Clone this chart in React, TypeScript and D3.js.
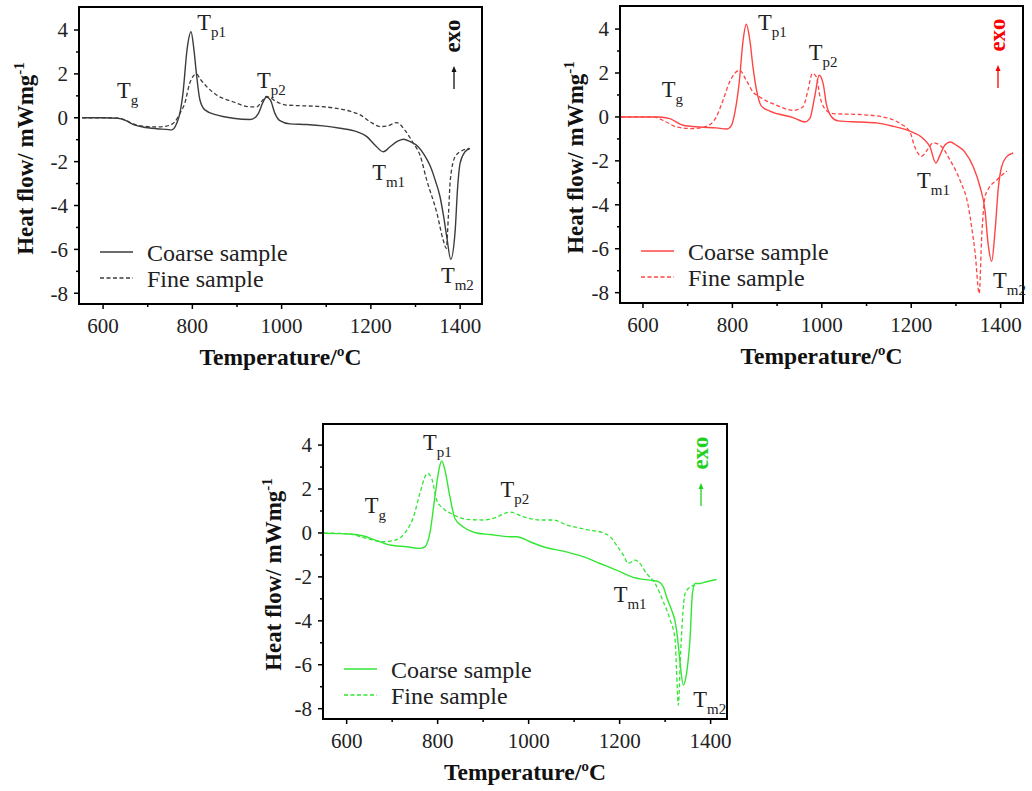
import React from "react";
import * as d3 from "d3";

// ---------- data (Temperature °C, Heat flow mW/mg) ----------
const xMajorTicks = [600, 800, 1000, 1200, 1400];
const xMinorTicks = [700, 900, 1100, 1300];
const yMajorTicks = [4, 2, 0, -2, -4, -6, -8];
const yMinorTicks = [3, 1, -1, -3, -5, -7];
const legendLabels = ["Coarse sample", "Fine sample"];

const coarseBlack: [number, number][] = [
  [553, 0], [600, 0], [633, -0.02], [650, -0.12], [667, -0.3], [689, -0.42], [720, -0.5],
  [742, -0.53], [754, -0.55], [765, -0.25], [772, 0.2], [779, 1.12], [788, 3.09], [797, 3.92],
  [803, 3.2], [809, 2.03], [817, 0.81], [828, 0.36], [854, 0.13], [891, -0.02], [929, -0.08],
  [940, 0.0], [948, 0.2], [958, 0.7], [966, 0.95], [975, 0.8], [985, 0.2], [996, -0.13],
  [1019, -0.28], [1056, -0.31], [1093, -0.37], [1131, -0.48], [1168, -0.63], [1191, -0.86],
  [1209, -1.24], [1228, -1.55], [1243, -1.32], [1258, -1.09], [1273, -0.98], [1288, -1.09],
  [1306, -1.32], [1320, -1.7], [1333, -2.2], [1345, -2.9], [1355, -3.6], [1363, -4.5],
  [1370, -5.42], [1379, -6.45], [1389, -5.11], [1394, -3.29], [1400, -2.07], [1411, -1.55],
  [1422, -1.4],
];
const fineBlack: [number, number][] = [
  [553, 0], [600, 0], [633, -0.02], [650, -0.1], [667, -0.28], [689, -0.38], [720, -0.42],
  [742, -0.38], [760, -0.2], [772, 0.2], [783, 0.66], [794, 1.57], [802, 1.9], [809, 2.0],
  [818, 1.75], [832, 1.42], [854, 1.04], [891, 0.73], [929, 0.5], [944, 0.5], [959, 0.84],
  [966, 0.97], [975, 0.9], [989, 0.73], [1011, 0.58], [1041, 0.55], [1080, 0.52], [1116, 0.45],
  [1153, 0.3], [1176, 0.13], [1198, -0.18], [1221, -0.4], [1236, -0.38], [1258, -0.22],
  [1276, -0.56], [1295, -1.16], [1310, -1.7], [1325, -2.83], [1348, -4.35], [1362, -5.57],
  [1369, -5.95], [1374, -4.35], [1378, -2.83], [1389, -1.77], [1407, -1.47], [1420, -1.4],
];

const coarseRed: [number, number][] = [
  [551, 0], [637, 0], [660, -0.08], [690, -0.38], [727, -0.46], [764, -0.5], [787, -0.55],
  [798, -0.38], [805, 0.15], [815, 1.52], [824, 3.5], [831, 4.22], [839, 3.5], [846, 2.28],
  [854, 1.22], [865, 0.49], [884, 0.26], [936, -0.03], [962, -0.23], [973, -0.08], [984, 0.91],
  [994, 1.9], [1003, 1.52], [1010, 0.61], [1022, 0], [1037, -0.18], [1085, -0.23],
  [1122, -0.27], [1160, -0.43], [1197, -0.65], [1227, -0.99], [1242, -1.37], [1255, -2.1],
  [1264, -1.75], [1275, -1.29], [1287, -1.14], [1301, -1.29], [1320, -1.6], [1339, -2.28],
  [1354, -3.19], [1365, -4.26], [1372, -5.78], [1380, -6.57], [1387, -5.32], [1395, -3.19],
  [1402, -2.28], [1413, -1.82], [1428, -1.64],
];
const fineRed: [number, number][] = [
  [551, 0], [622, 0], [652, -0.23], [675, -0.46], [712, -0.53], [742, -0.43], [764, 0],
  [779, 0.76], [794, 1.6], [805, 1.98], [816, 2.13], [831, 1.67], [846, 1.14], [861, 0.91],
  [899, 0.53], [936, 0.3], [958, 0.46], [969, 1.22], [979, 1.98], [988, 1.82], [996, 0.91],
  [1010, 0.3], [1025, 0.15], [1085, 0.11], [1137, 0], [1175, -0.3], [1197, -0.68],
  [1208, -1.37], [1223, -1.79], [1238, -1.44], [1249, -1.18], [1264, -1.28], [1287, -1.97],
  [1309, -2.88], [1328, -4.1], [1335, -5.0], [1343, -6.2], [1352, -8.04], [1358, -5.3],
  [1365, -3.64], [1372, -3.3], [1391, -2.88], [1414, -2.46],
];

const coarseGreen: [number, number][] = [
  [550, -0.02], [607, -0.05], [637, -0.14], [666, -0.35], [695, -0.55], [732, -0.63],
  [761, -0.7], [772, -0.63], [783, 0], [794, 1.65], [804, 3.0], [809, 3.28], [816, 2.86],
  [827, 1.65], [838, 0.66], [856, 0.28], [886, 0], [915, -0.07], [959, -0.17], [974, -0.17],
  [1003, -0.4], [1032, -0.63], [1083, -0.86], [1120, -1.08], [1157, -1.39], [1193, -1.69],
  [1230, -2.02], [1248, -2.1], [1267, -2.15], [1285, -2.22], [1296, -2.45], [1303, -2.9],
  [1314, -3.5], [1322, -4.04], [1327, -4.72], [1333, -5.94], [1340, -6.93], [1347, -6.4],
  [1355, -4.72], [1360, -2.75], [1366, -2.3], [1377, -2.3], [1391, -2.22], [1413, -2.12],
];
const fineGreen: [number, number][] = [
  [550, 0], [607, -0.05], [644, -0.25], [681, -0.4], [710, -0.3], [728, 0], [747, 0.74],
  [761, 1.8], [774, 2.63], [778, 2.71], [787, 2.48], [798, 1.49], [812, 1.12], [834, 0.84],
  [864, 0.62], [900, 0.59], [922, 0.66], [959, 0.95], [988, 0.74], [1025, 0.59], [1054, 0.59],
  [1084, 0.36], [1105, 0.25], [1135, 0.13], [1164, 0], [1179, -0.17], [1193, -0.55],
  [1208, -1.0], [1219, -1.39], [1234, -1.24], [1241, -1.31], [1259, -1.84], [1278, -2.3],
  [1296, -3.13], [1311, -3.96], [1322, -4.88], [1325, -6.24], [1329, -7.84], [1334, -5.48],
  [1338, -3.96], [1344, -2.75], [1351, -2.53], [1366, -2.37],
];

// annotation labels: [main, subscript, T, heat flow]
type Ann = [string, string, number, number];
const annBlack: Ann[] = [
  ["T", "g", 631, 0.9], ["T", "p1", 811, 4.0], ["T", "p2", 945, 1.36],
  ["T", "m1", 1203, -2.83], ["T", "m2", 1357, -7.53],
];
const annRed: Ann[] = [
  ["T", "g", 642, 0.91], ["T", "p1", 857, 3.95], ["T", "p2", 971, 2.58],
  ["T", "m1", 1213, -3.25], ["T", "m2", 1383, -7.8],
];
const annGreen: Ann[] = [
  ["T", "g", 640, 0.9], ["T", "p1", 768, 3.76], ["T", "p2", 938, 1.64],
  ["T", "m1", 1187, -3.14], ["T", "m2", 1362, -7.92],
];

// ---------- layout ----------
const FONT = "'Liberation Serif', 'Times New Roman', serif";

type PanelCfg = {
  left: number; right: number; top: number; bottom: number;
  xDomain: [number, number]; yDomain: [number, number];
  coarse: [number, number][]; fine: [number, number][];
  ann: Ann[]; color: string; exoColor: string;
  exoDx: number; arrowDx: number; labelX: number;
};

const panels: PanelCfg[] = [
  {
    left: 79, right: 482, top: 7, bottom: 304,
    xDomain: [546, 1449], yDomain: [-8.49, 5.05],
    coarse: coarseBlack, fine: fineBlack, ann: annBlack,
    color: "#3c3c3c", exoColor: "#111", exoDx: 22, arrowDx: 28, labelX: 25,
  },
  {
    left: 620, right: 1023, top: 6, bottom: 303,
    xDomain: [548.6, 1450], yDomain: [-8.47, 5.05],
    coarse: coarseRed, fine: fineRed, ann: annRed,
    color: "#f44", exoColor: "#f00", exoDx: 18, arrowDx: 25, labelX: 575,
  },
  {
    left: 323, right: 727, top: 424, bottom: 719,
    xDomain: [548, 1436], yDomain: [-8.47, 4.96],
    coarse: coarseGreen, fine: fineGreen, ann: annGreen,
    color: "#33e633", exoColor: "#1fd11f", exoDx: 19, arrowDx: 26, labelX: 273,
  },
];

function Panel({ p }: { p: PanelCfg }) {
  const x = d3.scaleLinear().domain(p.xDomain).range([p.left, p.right]);
  const y = d3.scaleLinear().domain(p.yDomain).range([p.bottom, p.top]);
  const line = d3
    .line<[number, number]>()
    .x((d) => x(d[0]))
    .y((d) => y(d[1]))
    .curve(d3.curveMonotoneX);
  const cx = (p.left + p.right) / 2;
  const cy = (p.top + p.bottom) / 2;
  const exoX = p.right - p.exoDx;
  const arX = p.right - p.arrowDx;
  return (
    <g fontFamily={FONT}>
      {/* curves */}
      <path d={line(p.fine) || ""} fill="none" stroke={p.color} strokeWidth={1.3} strokeDasharray="4,2.5" />
      <path d={line(p.coarse) || ""} fill="none" stroke={p.color} strokeWidth={1.4} />
      {/* frame */}
      <rect x={p.left} y={p.top} width={p.right - p.left} height={p.bottom - p.top} fill="none" stroke="#000" strokeWidth={2} />
      {/* x ticks */}
      {xMajorTicks.map((t) => (
        <g key={"xm" + t}>
          <line x1={x(t)} x2={x(t)} y1={p.bottom} y2={p.bottom + 5} stroke="#000" strokeWidth={1.5} />
          <text x={x(t)} y={p.bottom + 29} textAnchor="middle" fontSize={21} fill="#222">{t}</text>
        </g>
      ))}
      {xMinorTicks.map((t) => (
        <line key={"xn" + t} x1={x(t)} x2={x(t)} y1={p.bottom} y2={p.bottom + 3} stroke="#000" strokeWidth={1.5} />
      ))}
      {/* y ticks */}
      {yMajorTicks.map((t) => (
        <g key={"ym" + t}>
          <line x1={p.left} x2={p.left - 5} y1={y(t)} y2={y(t)} stroke="#000" strokeWidth={1.5} />
          <text x={p.left - 11} y={y(t)} dy="0.35em" textAnchor="end" fontSize={21} fill="#222">{t}</text>
        </g>
      ))}
      {yMinorTicks.map((t) => (
        <line key={"yn" + t} x1={p.left} x2={p.left - 3} y1={y(t)} y2={y(t)} stroke="#000" strokeWidth={1.5} />
      ))}
      {/* axis titles */}
      <text x={cx} y={p.bottom + 61} textAnchor="middle" fontSize={23.5} fontWeight="bold" fill="#111">
        Temperature/ºC
      </text>
      <text
        transform={`translate(${p.labelX + 8},${cy + 3}) rotate(-90)`}
        textAnchor="middle" fontSize={23} fontWeight="bold" fill="#111"
      >
        Heat flow/ mWmg<tspan dy={-9} fontSize={15}>-1</tspan>
      </text>
      {/* annotations */}
      {p.ann.map((a, i) => (
        <text key={"a" + i} x={x(a[2])} y={y(a[3])} fontSize={22.5} fill="#222">
          {a[0]}
          <tspan dy={7} fontSize={15}>{a[1]}</tspan>
        </text>
      ))}
      {/* exo */}
      <text
        transform={`translate(${exoX},${p.top + 29}) rotate(-90)`}
        textAnchor="middle" fontSize={23} fontWeight="bold" fill={p.exoColor}
      >
        exo
      </text>
      <line x1={arX} x2={arX} y1={p.top + 82} y2={p.top + 63} stroke={p.exoColor} strokeWidth={1.3} />
      <path d={`M${arX - 2.5},${p.top + 65} L${arX},${p.top + 59} L${arX + 2.5},${p.top + 65} Z`} fill={p.exoColor} />
      {/* legend */}
      {legendLabels.map((lab, i) => (
        <g key={lab}>
          <line
            x1={p.left + 21} x2={p.left + 54}
            y1={p.top + 245 + i * 26} y2={p.top + 245 + i * 26}
            stroke={p.color} strokeWidth={1.3}
            strokeDasharray={i === 1 ? "4,2.5" : undefined}
          />
          <text x={p.left + 68} y={p.top + 254 + i * 26} fontSize={24} fill="#222">{lab}</text>
        </g>
      ))}
    </g>
  );
}

export default function App() {
  return (
    <svg
      width={1032}
      height={791}
      style={{ position: "absolute", left: 0, top: 0, background: "#fff" }}
    >
      <rect width={1032} height={791} fill="#fff" />
      {panels.map((p, i) => (
        <Panel key={i} p={p} />
      ))}
    </svg>
  );
}
